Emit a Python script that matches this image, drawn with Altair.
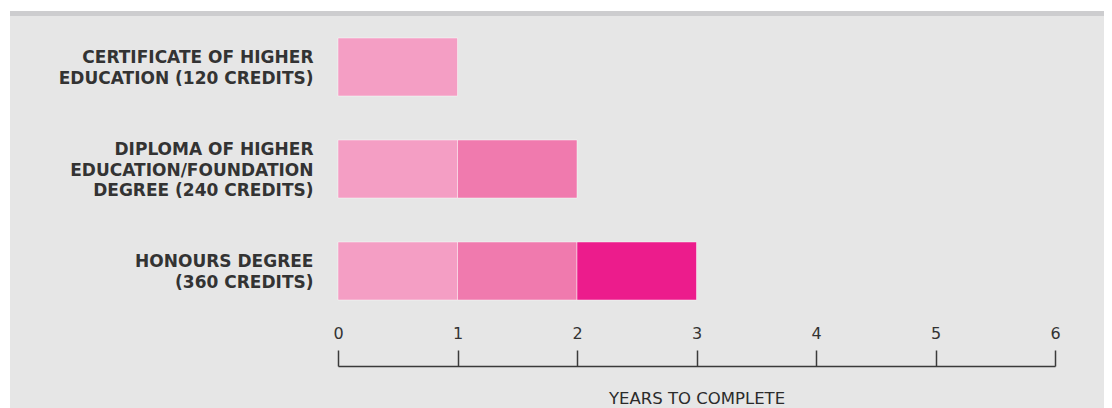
import altair as alt
import pandas as pd

categories = [
    "CERTIFICATE OF HIGHER|EDUCATION (120 CREDITS)",
    "DIPLOMA OF HIGHER|EDUCATION/FOUNDATION|DEGREE (240 CREDITS)",
    "HONOURS DEGREE|(360 CREDITS)",
]
years_to_complete = [1, 2, 3]
segment_names = ["Year 1", "Year 2", "Year 3"]
segment_colors = ["#F49EC4", "#F07AAE", "#EC1C8C"]
x_ticks = [0, 1, 2, 3, 4, 5, 6]

rows = []
for cat, n in zip(categories, years_to_complete):
    for i in range(n):
        rows.append({"qual": cat, "seg": segment_names[i], "start": i, "end": i + 1})
df = pd.DataFrame(rows)

PAD_L, PAD_T, PAD_R, PAD_B = 330, 12, 49, 90
W, H = 717, 298
TOTAL_W = PAD_L + W + PAD_R
LINE_H = 20.5

bg = pd.DataFrame({"k": [0]})
panel = alt.Chart(bg).mark_rect(color="#E6E6E6").encode(
    x=alt.value(2 - PAD_L), x2=alt.value(TOTAL_W - PAD_L),
    y=alt.value(3 - PAD_T), y2=alt.value(H + PAD_B),
)
band = alt.Chart(bg).mark_rect(color="#CDCDCF").encode(
    x=alt.value(2 - PAD_L), x2=alt.value(TOTAL_W - PAD_L),
    y=alt.value(3 - PAD_T), y2=alt.value(8 - PAD_T),
)

label_offset = {
    "condition": {
        "test": "length(split(datum.value, '|')) == 3",
        "value": -LINE_H + 1.5,
    },
    "value": -LINE_H / 2 + 1.5,
}

bars = alt.Chart(df).mark_bar(
    stroke="#FFFFFF", strokeOpacity=0.45, strokeWidth=1
).encode(
    x=alt.X(
        "start:Q",
        scale=alt.Scale(domain=[0, 6], nice=False, zero=True),
        axis=alt.Axis(
            orient="top", offset=-346, values=x_ticks, format="d",
            grid=False, domainColor="#3a3a3a", domainWidth=1.5,
            tickColor="#3a3a3a", tickWidth=1.5, tickSize=16,
            labelFont="DejaVu Sans", labelFontSize=16, labelColor="#333333",
            labelPadding=9, labelFlush=False, labelAlign="center",
            labelOverlap=False, zindex=1,
            title="YEARS TO COMPLETE", titleFont="DejaVu Sans",
            titleFontSize=16.5, titleFontWeight="normal", titleColor="#2b2b2b",
            titleY=37.5, titleX=358.5, titleBaseline="alphabetic",
            titleAngle=0, titleAlign="center",
        ),
    ),
    x2="end:Q",
    y=alt.Y(
        "qual:N", sort=categories,
        scale=alt.Scale(paddingInner=0.4314, paddingOuter=0.1765),
        axis=alt.Axis(
            title=None, domain=False, ticks=False, zindex=1,
            labelExpr="split(datum.label, '|')",
            labelFont="DejaVu Sans", labelFontWeight="bold",
            labelFontSize=17, labelColor="#333333",
            labelLineHeight=LINE_H, labelPadding=25, labelLimit=400,
            labelBaseline="middle", labelOffset=label_offset,
        ),
    ),
    color=alt.Color(
        "seg:N",
        scale=alt.Scale(domain=segment_names, range=segment_colors),
        legend=None,
    ),
)

chart = alt.layer(panel, band, bars).properties(
    width=W, height=H,
    autosize=alt.AutoSizeParams(type="none"),
    padding={"left": PAD_L, "top": PAD_T, "right": PAD_R, "bottom": PAD_B},
    background="#FFFFFF",
).configure_view(stroke=None)

chart.save("out.html", embed_options={"renderer": "svg", "actions": False})
